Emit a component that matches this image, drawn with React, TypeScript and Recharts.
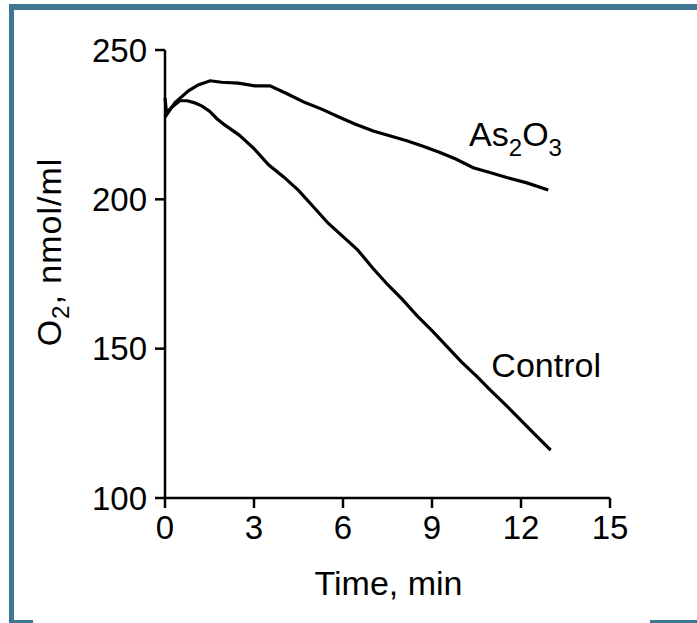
import React from 'react'
import { LineChart, Line, XAxis, YAxis, Label, ReferenceDot } from 'recharts'

const FONT = '"Liberation Sans", Arial, Helvetica, sans-serif'
const FRAME = '#3f7792'

// (time in min, O2 in nmol/ml)
const controlTime = [0, 0.05, 0.25, 0.5, 0.75, 1, 1.25, 1.5, 1.75, 2, 2.5, 3, 3.5, 4, 4.5, 5, 5.5, 6, 6.5, 7, 7.5, 8, 8.5, 9, 9.5, 10, 10.5, 11, 11.5, 12, 12.5, 13]
const controlO2 = [234, 229, 231, 233, 233, 232.3, 231.2, 229.5, 227, 225, 221.5, 217, 211.5, 207.5, 203, 197.5, 192, 187.5, 183, 177, 171.5, 166.5, 161, 156, 150.8, 145.5, 140.8, 135.8, 131, 126, 121, 116]

const arsenicTime = [0, 0.34, 0.79, 1.12, 1.52, 1.91, 2.47, 3.03, 3.54, 4.15, 4.72, 5.28, 5.9, 6.4, 7.02, 7.6, 8.15, 8.7, 9.27, 9.8, 10.39, 10.95, 11.52, 12.2, 12.92]
const arsenicO2 = [227.5, 232.4, 236.3, 238.3, 239.7, 239.2, 238.9, 238, 238, 235.2, 232.4, 230.2, 227.4, 225.2, 222.9, 221.2, 219.6, 217.8, 215.7, 213.5, 210.6, 209, 207.3, 205.5, 203.1]

const xTicks = [0, 3, 6, 9, 12, 15]
const yTicks = [100, 150, 200, 250]

// where the series names sit (data coords, text baseline-left)
const arsenicLabelAt = { t: 10.25, v: 218 }
const controlLabelAt = { t: 11.0, v: 140.5 }

const controlData = controlTime.map((t, i) => ({ t, v: controlO2[i] }))
const arsenicData = arsenicTime.map((t, i) => ({ t, v: arsenicO2[i] }))

const tickStyle = { fill: '#000', fontSize: 33, fontFamily: FONT }

function SeriesName({ viewBox, main, subs }: any) {
  const x = viewBox.x + viewBox.width / 2
  const y = viewBox.y + viewBox.height / 2
  return (
    <text x={x} y={y} fill="#000" fontSize={34} fontFamily={FONT} textAnchor="start">
      {main}
      {subs}
    </text>
  )
}

export default function App() {
  return (
    <div style={{ position: 'absolute', left: 0, top: 0, width: 697, height: 623, background: '#fff' }}>
      <div style={{ position: 'absolute', left: 9, top: 4, width: 688, height: 6, background: FRAME }} />
      <div style={{ position: 'absolute', left: 9, top: 4, width: 5, height: 619, background: FRAME }} />
      <div style={{ position: 'absolute', left: 9, top: 620, width: 24, height: 3, background: FRAME }} />
      <div style={{ position: 'absolute', left: 650, top: 620, width: 47, height: 3, background: FRAME }} />
      <div style={{ position: 'absolute', left: 0, top: 0 }}>
        <LineChart width={697} height={623} margin={{ top: 50, right: 87, left: 85, bottom: 65 }}>
          <XAxis
            dataKey="t"
            type="number"
            domain={[0, 15]}
            ticks={xTicks}
            height={60}
            tickSize={10}
            tickMargin={8}
            axisLine={{ stroke: '#000', strokeWidth: 2.5 }}
            tickLine={{ stroke: '#000', strokeWidth: 2.5 }}
            tick={tickStyle}
            allowDuplicatedCategory={false}
          >
            <Label
              content={({ viewBox }: any) => (
                <text
                  x={viewBox.x + viewBox.width / 2 + 1}
                  y={viewBox.y + 97}
                  textAnchor="middle"
                  fill="#000"
                  fontSize={34}
                  fontFamily={FONT}
                >
                  Time, min
                </text>
              )}
            />
          </XAxis>
          <YAxis
            type="number"
            domain={[100, 250]}
            ticks={yTicks}
            width={80}
            tickSize={10}
            tickMargin={8}
            axisLine={{ stroke: '#000', strokeWidth: 2.5 }}
            tickLine={{ stroke: '#000', strokeWidth: 2.5 }}
            tick={tickStyle}
          >
            <Label
              content={({ viewBox }: any) => {
                const x = viewBox.x - 24
                const y = viewBox.y + viewBox.height / 2 - 22
                return (
                  <text
                    transform={`translate(${x},${y}) rotate(-90)`}
                    textAnchor="middle"
                    fill="#000"
                    fontSize={34}
                    letterSpacing={1}
                    fontFamily={FONT}
                  >
                    O<tspan fontSize={24} dy={8}>2</tspan>
                    <tspan dy={-8}>, nmol/ml</tspan>
                  </text>
                )
              }}
            />
          </YAxis>
          <Line data={controlData} dataKey="v" stroke="#000" strokeWidth={3.2} dot={false} isAnimationActive={false} />
          <Line data={arsenicData} dataKey="v" stroke="#000" strokeWidth={3.2} dot={false} isAnimationActive={false} />
          <ReferenceDot
            x={arsenicLabelAt.t}
            y={arsenicLabelAt.v}
            r={0}
            fill="none"
            stroke="none"
            label={{
              content: (p: any) => (
                <SeriesName
                  viewBox={p.viewBox}
                  main="As"
                  subs={
                    <>
                      <tspan fontSize={24} dy={10}>2</tspan>
                      <tspan dy={-10}>O</tspan>
                      <tspan fontSize={24} dy={10}>3</tspan>
                    </>
                  }
                />
              ),
            }}
          />
          <ReferenceDot
            x={controlLabelAt.t}
            y={controlLabelAt.v}
            r={0}
            fill="none"
            stroke="none"
            label={{ content: (p: any) => <SeriesName viewBox={p.viewBox} main="Control" subs={null} /> }}
          />
        </LineChart>
      </div>
    </div>
  )
}
